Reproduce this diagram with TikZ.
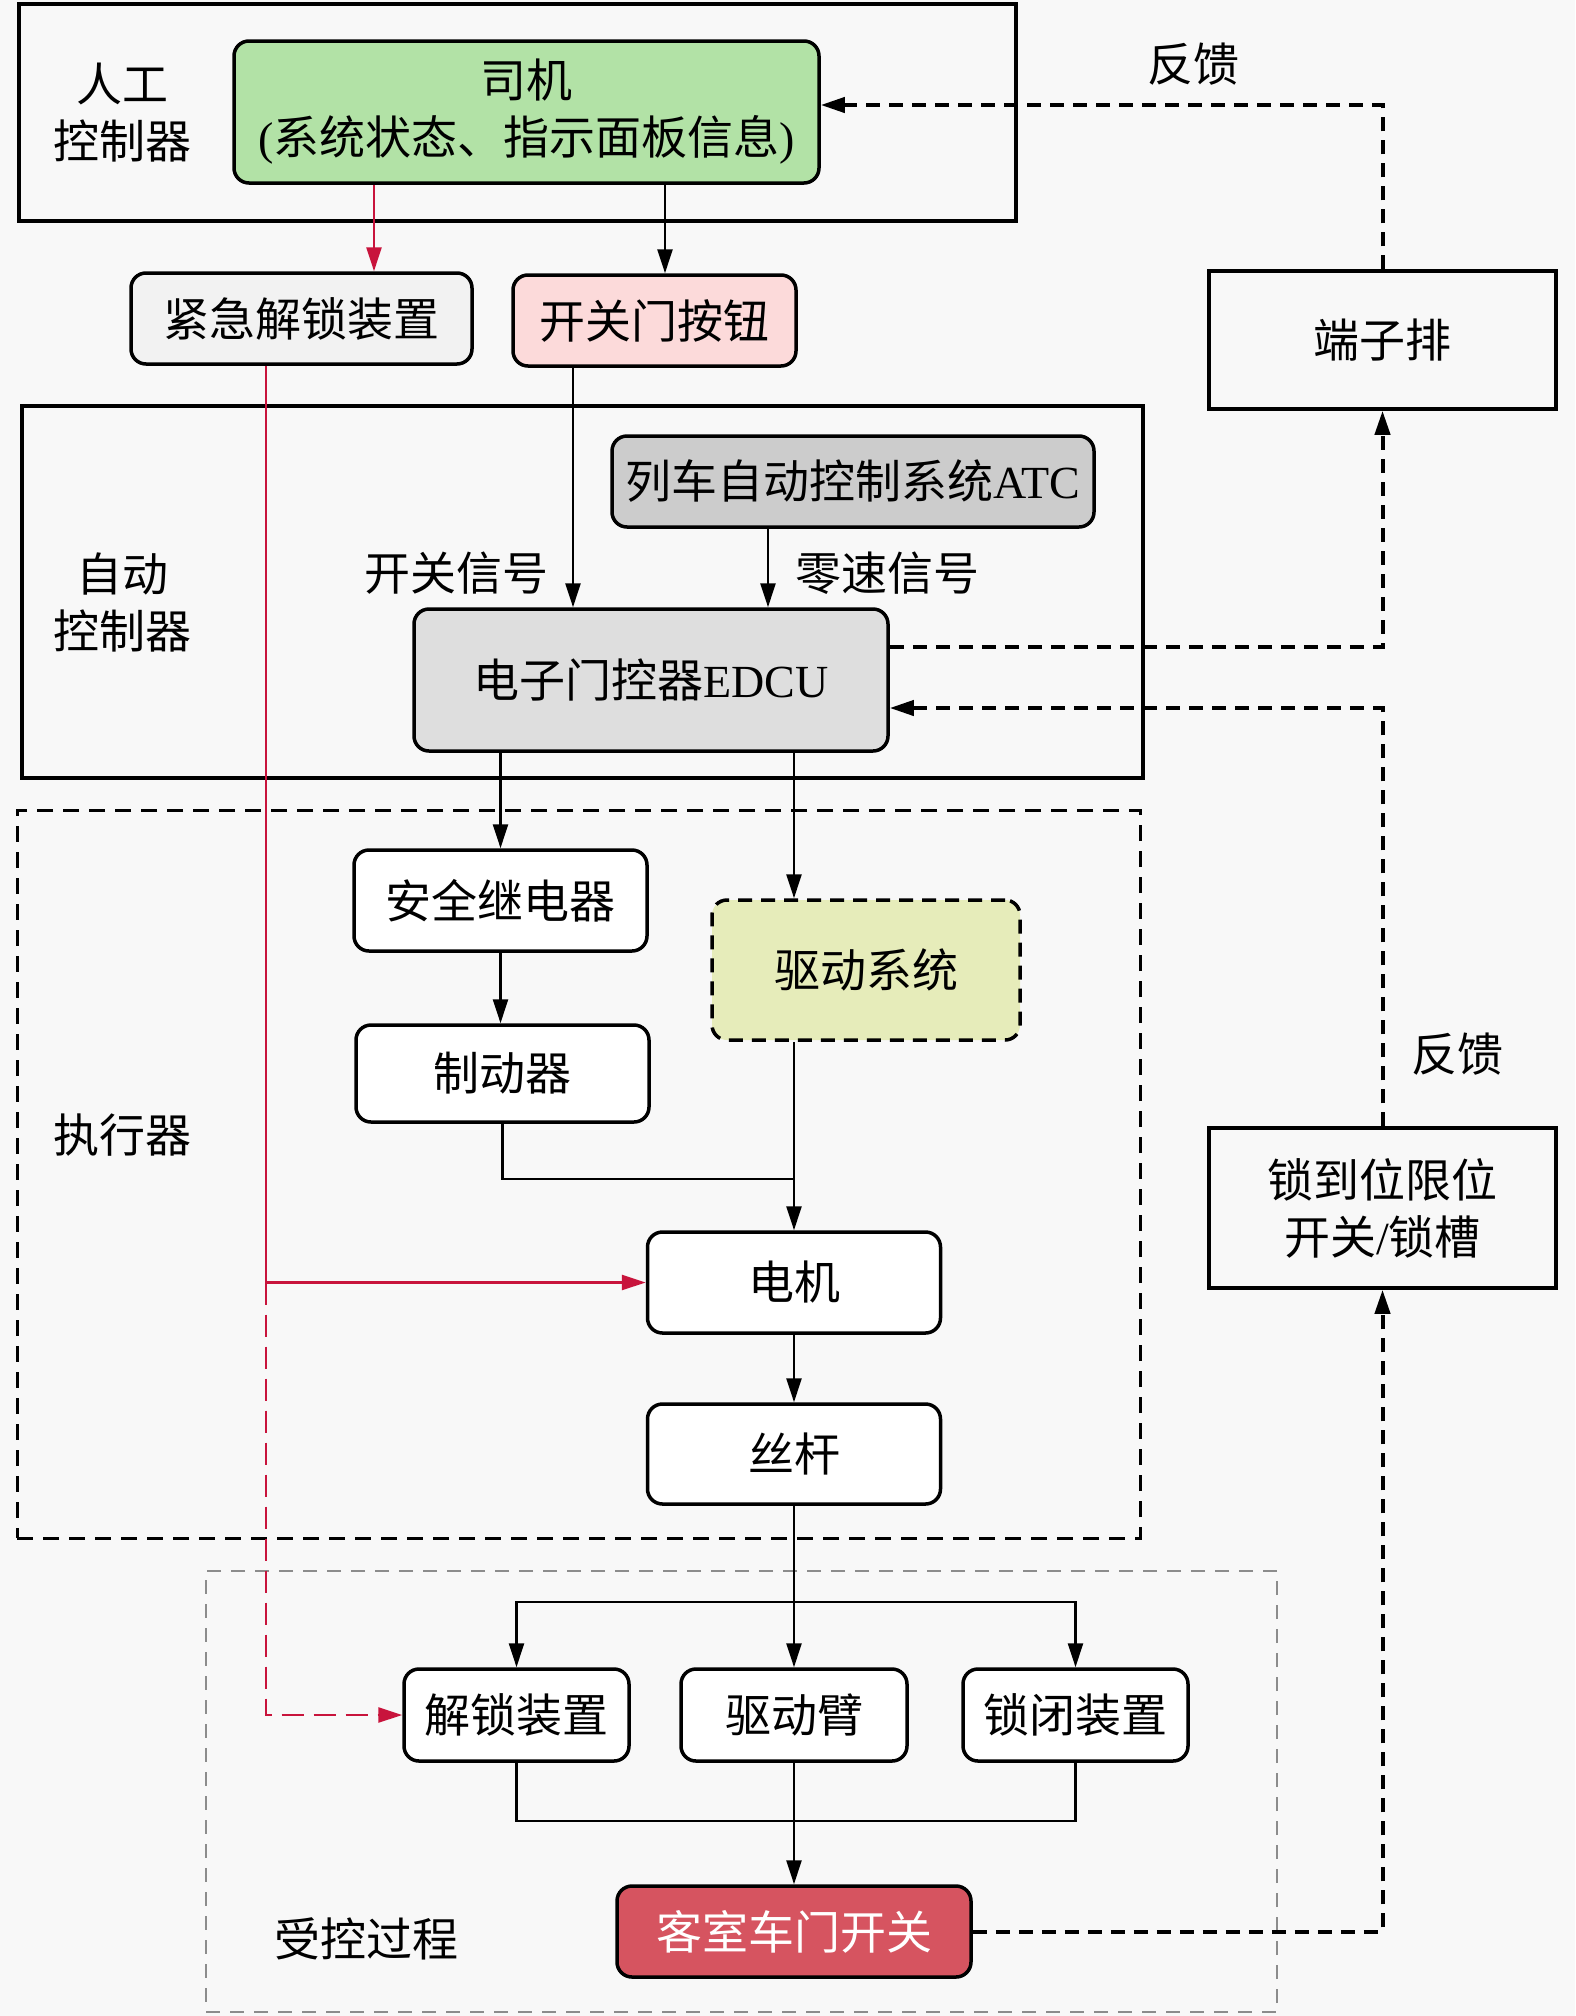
\documentclass[tikz,border=0pt]{standalone}
\usepackage{fontspec}
\setmainfont{Liberation Serif}
\newfontfamily\cjk{Noto Sans CJK SC}
\usetikzlibrary{arrows.meta}
\definecolor{bgc}{RGB}{248,248,248}
\definecolor{drvgreen}{RGB}{178,226,166}
\definecolor{emgray}{RGB}{242,242,242}
\definecolor{btnpink}{RGB}{252,218,218}
\definecolor{atcgray}{RGB}{204,204,204}
\definecolor{edcugray}{RGB}{222,222,222}
\definecolor{drvyellow}{RGB}{230,236,186}
\definecolor{doorred}{RGB}{214,84,96}
\definecolor{redline}{RGB}{200,20,60}
\definecolor{procgray}{RGB}{140,140,140}
\begin{document}
\begin{tikzpicture}[x=1pt,y=-1pt,
  every node/.style={font=\fontsize{46}{57}\selectfont\cjk},
  box/.style={draw, line width=3.5pt, rounded corners=15pt, align=center, inner sep=0pt, fill=white},
  sqbox/.style={draw, line width=3.5pt, align=center, inner sep=0pt, fill=bgc},
  group/.style={draw, line width=3.5pt, inner sep=0pt},
  dgroup/.style={draw, line width=3pt, dash pattern=on 16pt off 10pt, inner sep=0pt},
  pgroup/.style={draw=procgray, line width=2.5pt, dash pattern=on 14pt off 10pt, inner sep=0pt},
  lbl/.style={align=center, inner sep=0pt},
  tip/.style={-{Triangle[length=24pt,width=15pt]}},
  arr/.style={line width=2.5pt, tip},
  ln/.style={line width=2.5pt},
  fb/.style={line width=4pt, dash pattern=on 14pt off 9pt, tip},
  redarr/.style={line width=2.5pt, draw=redline, -{Triangle[length=24pt,width=15pt,fill=redline]}},
  redln/.style={line width=2.5pt, draw=redline},
  reddash/.style={line width=2.5pt, draw=redline, dash pattern=on 22pt off 10pt, -{Triangle[length=24pt,width=15pt,fill=redline]}}
]
\fill[bgc] (0,0) rectangle (1575,2016);
\useasboundingbox (0,0) rectangle (1575,2016);

% containers
\node[group, minimum width=997pt, minimum height=217pt] (g1) at (517.5,112.5) {};
\node[group, minimum width=1121pt, minimum height=372pt] (g2) at (582.5,592) {};
\node[dgroup, minimum width=1123pt, minimum height=728pt] (g3) at (578.5,1174) {};
\node[pgroup, minimum width=1071pt, minimum height=441pt] (g4) at (741.5,1791.5) {};

% group labels
\node[lbl] (l1) at (122,113) {人工\\控制器};
\node[lbl] (l2) at (122,602) {自动\\控制器};
\node[lbl] (l3) at (122,1135) {执行器};
\node[lbl] (l4) at (366,1939) {受控过程};

% nodes
\node[box, fill=drvgreen, minimum width=585pt, minimum height=142pt] (driver) at (526.5,112) {司机\\{\rmfamily(}系统状态、指示面板信息{\rmfamily)}};
\node[box, fill=emgray, minimum width=341pt, minimum height=91pt] (emerg) at (301.5,318.5) {紧急解锁装置};
\node[box, fill=btnpink, minimum width=283pt, minimum height=91pt] (button) at (654.5,320.5) {开关门按钮};
\node[box, fill=atcgray, minimum width=482pt, minimum height=91pt] (atc) at (853,481.5) {列车自动控制系统{\rmfamily ATC}};
\node[box, fill=edcugray, minimum width=474pt, minimum height=142pt] (edcu) at (651,680) {电子门控器{\rmfamily EDCU}};
\node[sqbox, minimum width=347pt, minimum height=138pt] (term) at (1382.5,340) {端子排};
\node[box, minimum width=293pt, minimum height=101pt] (relay) at (500.5,900.5) {安全继电器};
\node[box, fill=drvyellow, dash pattern=on 14pt off 9pt, minimum width=308pt, minimum height=140pt] (drive) at (866,970) {驱动系统};
\node[box, minimum width=293pt, minimum height=97pt] (brake) at (502.5,1073.5) {制动器};
\node[box, minimum width=293pt, minimum height=101pt] (motor) at (794,1282.5) {电机};
\node[box, minimum width=293pt, minimum height=100pt] (screw) at (794,1454) {丝杆};
\node[box, minimum width=225pt, minimum height=92pt] (unlock) at (516.5,1715) {解锁装置};
\node[box, minimum width=226pt, minimum height=92pt] (arm) at (794,1715) {驱动臂};
\node[box, minimum width=225pt, minimum height=92pt] (lock) at (1075.5,1715) {锁闭装置};
\node[box, fill=doorred, text=white, minimum width=354pt, minimum height=91pt] (door) at (794,1931.5) {客室车门开关};
\node[sqbox, minimum width=347pt, minimum height=160pt] (limit) at (1382.5,1208) {锁到位限位\\开关{\rmfamily /}锁槽};

% edge labels
\node[lbl] (s1) at (456,573) {开关信号};
\node[lbl] (s2) at (887,573) {零速信号};
\node[lbl] (f1) at (1193,64) {反馈};
\node[lbl] (f2) at (1457,1054) {反馈};

% connectors
\draw[redarr] (374,0 |- driver.south) -- (374,0 |- emerg.north);
\draw[arr] (665,0 |- driver.south) -- (665,0 |- button.north);
\draw[arr] (573,0 |- button.south) -- (573,0 |- edcu.north);
\draw[arr] (768,0 |- atc.south) -- (768,0 |- edcu.north);
\draw[arr] (relay.north |- edcu.south) -- (relay.north);
\draw[arr] (794,0 |- edcu.south) -- (794,0 |- drive.north);
\draw[arr] (relay.south) -- (relay.south |- brake.north);
\draw[arr] (794,0 |- drive.south) -- (motor.north);
\coordinate (j1) at (794,1179);
\draw[ln] (brake.south) -- (brake.south |- j1) -- (j1);
\draw[arr] (motor.south) -- (screw.north);
\coordinate (sp) at (794,1602);
\draw[ln] (screw.south) -- (sp);
\draw[arr] (sp) -| (unlock.north);
\draw[arr] (sp) -| (lock.north);
\draw[arr] (sp) -- (arm.north);
\coordinate (mg) at (794,1821);
\draw[ln] (unlock.south) -- (unlock.south |- mg) -- (lock.south |- mg) -- (lock.south);
\draw[arr] (arm.south) -- (door.north);

% feedback
\draw[fb] (edcu.east |- 0,647) -| (term.south);
\draw[fb] (term.north) |- (driver.east |- 0,105);
\draw[fb] (door.east) -| (limit.south);
\draw[fb] (limit.north) |- (edcu.east |- 0,708);

% emergency path
\coordinate (rb) at (266,1282.5);
\draw[redln] (266,0 |- emerg.south) -- (rb);
\draw[redarr] (rb) -- (motor.west);
\draw[reddash] (rb) -- (rb |- unlock.west) -- (unlock.west);
\end{tikzpicture}
\end{document}
